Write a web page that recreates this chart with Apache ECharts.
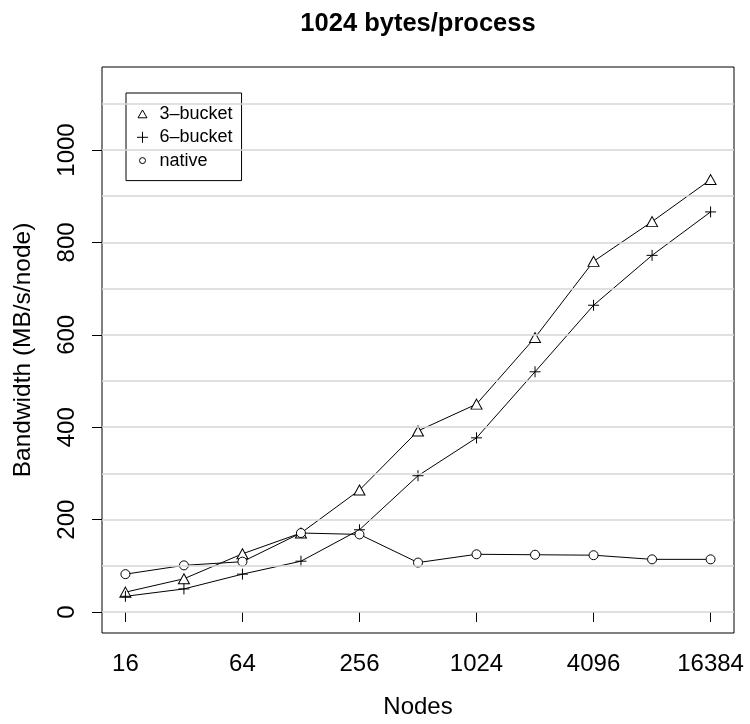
<!DOCTYPE html>
<html>
<head>
<meta charset="utf-8">
<script src="https://cdn.jsdelivr.net/npm/echarts@6/dist/echarts.min.js"></script>
<style>html,body{margin:0;padding:0;background:#fff}#c{width:750px;height:724px}</style>
</head>
<body>
<div id="c"></div>
<script>
const nodes = [16, 32, 64, 128, 256, 512, 1024, 2048, 4096, 8192, 16384];
const bucket3 = [43, 72, 126, 171, 264, 392, 450, 594, 759, 845, 936];
const bucket6 = [34, 50, 82, 110, 178, 295, 377, 520, 664, 772, 866];
const nativeBw = [82, 101, 109, 171, 168, 107, 125, 124, 123, 114, 114];
const seriesNames = ['3–bucket', '6–bucket', 'native'];
const xTicks = [16, 64, 256, 1024, 4096, 16384];
const yTicks = [0, 200, 400, 600, 800, 1000];
const gridValues = [0, 100, 200, 300, 400, 500, 600, 700, 800, 900, 1000, 1100];

const FONT = 'Liberation Sans, Arial, Helvetica, sans-serif';
const plusPath = 'path://M0,5L10,5M5,0L5,10';
const pairs = vals => nodes.map((n, i) => [n, vals[i]]);
const pointStyle = { color: '#fff', borderColor: '#000', borderWidth: 1 };

const chart = echarts.init(document.getElementById('c'), null, { renderer: 'canvas' });
chart.setOption({
  animation: false,
  backgroundColor: '#fff',
  title: {
    text: '1024 bytes/process',
    left: 418, top: 11, textAlign: 'center', padding: 0,
    textStyle: { fontFamily: FONT, fontSize: 25.5, fontWeight: 'bold', color: '#000' }
  },
  grid: {
    left: 102, top: 67, width: 632, height: 566,
    show: true, borderColor: '#000', borderWidth: 1, backgroundColor: 'transparent'
  },
  legend: {
    orient: 'vertical', left: 126, top: 93,
    padding: [12, 9, 11, 10],
    backgroundColor: '#fff', borderColor: '#000', borderWidth: 1, borderRadius: 0,
    itemWidth: 12, itemHeight: 12, itemGap: 5.3,
    symbolKeepAspect: true,
    itemStyle: { color: '#fff', borderColor: '#000', borderWidth: 1 },
    textStyle: { fontFamily: FONT, fontSize: 18, color: '#000', lineHeight: 18, padding: [0, 0, 0, 6] },
    data: [
      { name: seriesNames[0], icon: 'path://M0,0M12,12M6,2L10.5,9.8L1.5,9.8Z' },
      { name: seriesNames[1], icon: 'path://M0,0M12,12M0.5,6L11.5,6M6,0.5L6,11.5' },
      { name: seriesNames[2], icon: 'path://M0,0M12,12M3,6A3,3,0,1,1,9,6A3,3,0,1,1,3,6Z' }
    ]
  },
  xAxis: {
    type: 'log', logBase: 2,
    min: Math.pow(2, 3.6), max: Math.pow(2, 14.4),
    name: 'Nodes', nameLocation: 'middle', nameGap: 62,
    nameTextStyle: { fontFamily: FONT, fontSize: 24, color: '#000' },
    axisLine: { show: false },
    axisTick: { show: true, inside: false, length: 10, customValues: xTicks, lineStyle: { color: '#000', width: 1 } },
    axisLabel: { customValues: xTicks, margin: 19, fontFamily: FONT, fontSize: 24, color: '#000', formatter: v => String(Math.round(v)) },
    splitLine: { show: false }, minorTick: { show: false }, minorSplitLine: { show: false }
  },
  yAxis: {
    type: 'value', min: -45.4, max: 1179.7,
    name: 'Bandwidth (MB/s/node)', nameLocation: 'middle', nameGap: 66,
    nameTextStyle: { fontFamily: FONT, fontSize: 24.5, color: '#000' },
    axisLine: { show: false },
    axisTick: { show: true, inside: false, length: 10, customValues: yTicks, lineStyle: { color: '#000', width: 1 } },
    axisLabel: { customValues: yTicks, rotate: 90, margin: 23, fontFamily: FONT, fontSize: 24, color: '#000', formatter: v => String(Math.round(v)) },
    splitLine: { show: false }
  },
  series: [
    {
      name: 'gridlines', type: 'line', data: [], z: 1, silent: true,
      markLine: {
        silent: true, symbol: 'none', label: { show: false },
        lineStyle: { color: '#d6d6d6', width: 1.5, type: 'solid' },
        emphasis: { disabled: true },
        data: gridValues.map(v => ({ yAxis: v }))
      }
    },
    {
      name: seriesNames[0], type: 'line', data: pairs(bucket3), z: 3,
      symbol: 'triangle', symbolSize: [11, 10],
      lineStyle: { color: '#000', width: 1 }, itemStyle: pointStyle
    },
    {
      name: seriesNames[1], type: 'line', data: pairs(bucket6), z: 3,
      symbol: plusPath, symbolSize: 11,
      lineStyle: { color: '#000', width: 1 }, itemStyle: pointStyle
    },
    {
      name: seriesNames[2], type: 'line', data: pairs(nativeBw), z: 3,
      symbol: 'circle', symbolSize: 9,
      lineStyle: { color: '#000', width: 1 }, itemStyle: pointStyle
    }
  ]
});
</script>
</body>
</html>
